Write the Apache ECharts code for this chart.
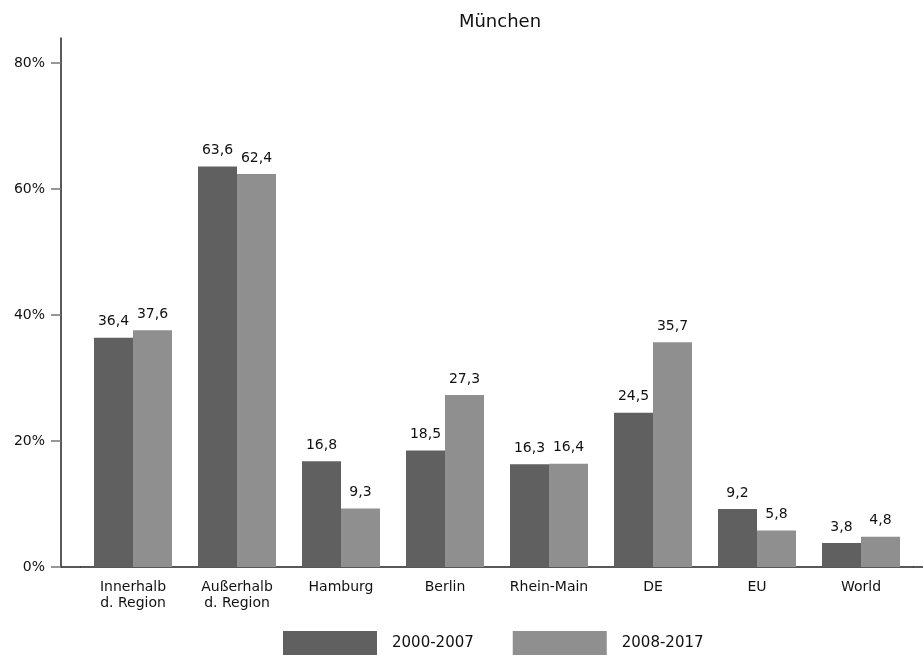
<!DOCTYPE html>
<html>
<head>
<meta charset="utf-8">
<script src="https://cdn.jsdelivr.net/npm/echarts@6/dist/echarts.min.js"></script>
<style>
  html, body { margin: 0; padding: 0; background: #fff; }
  #chart { width: 923px; height: 655px; }
</style>
</head>
<body>
<div id="chart"></div>
<script>
// Kategorien und Werte (in %)
const categories = ['Innerhalb\nd. Region', 'Außerhalb\nd. Region', 'Hamburg', 'Berlin', 'Rhein-Main', 'DE', 'EU', 'World']
const seriesNames = ['2000-2007', '2008-2017']
const values2000 = [36.4, 63.6, 16.8, 18.5, 16.3, 24.5, 9.2, 3.8]
const values2008 = [37.6, 62.4, 9.3, 27.3, 16.4, 35.7, 5.8, 4.8]
const yTicks = [0, 20, 40, 60, 80]

const colors = ['#606060', '#8f8f8f']
const font = 'DejaVu Sans'

const chart = echarts.init(document.getElementById('chart'))

const barLabel = {
  show: true,
  position: 'top',
  distance: 9,
  color: '#111',
  fontFamily: font,
  fontSize: 14,
  formatter: p => String(p.value).replace('.', ',')
}

const option = {
  animation: false,
  color: colors,
  title: {
    text: 'München',
    left: 495,
    top: 8,
    textAlign: 'center',
    textStyle: { fontFamily: font, fontSize: 18, fontWeight: 'normal', color: '#111' }
  },
  legend: {
    data: seriesNames,
    top: 631,
    left: 283,
    padding: 0,
    itemWidth: 94,
    itemHeight: 24,
    itemGap: 39,
    icon: 'rect',
    textStyle: { fontFamily: font, fontSize: 15, color: '#111', padding: [0, 0, 0, 10] }
  },
  grid: {
    left: 81,
    right: 10,
    top: 38,
    bottom: 88,
    containLabel: false
  },
  xAxis: {
    type: 'category',
    data: categories,
    axisLine: { lineStyle: { color: '#222', width: 1.5 } },
    axisTick: { show: false },
    axisLabel: { fontFamily: font, fontSize: 14, color: '#111', margin: 12, lineHeight: 16 }
  },
  yAxis: {
    type: 'value',
    min: 0,
    max: 84,
    interval: 20,
    offset: 20,
    splitLine: { show: false },
    axisLine: { show: true, lineStyle: { color: '#222', width: 1.5 } },
    axisTick: { show: true, length: 10, customValues: yTicks, lineStyle: { color: '#777', width: 1.5 } },
    axisLabel: {
      customValues: yTicks,
      fontFamily: font, fontSize: 14, color: '#111', margin: 16,
      formatter: v => v + '%'
    }
  },
  series: [
    {
      name: seriesNames[0],
      type: 'bar',
      data: values2000,
      barWidth: 39,
      barGap: '0%',
      label: barLabel
    },
    {
      name: seriesNames[1],
      type: 'bar',
      data: values2008,
      barWidth: 39,
      barGap: '0%',
      label: barLabel
    }
  ],
  // x-Achse links und rechts über das Kategorienband hinaus verlängern
  graphic: [
    { type: 'line', shape: { x1: 61, y1: 567, x2: 81, y2: 567 }, style: { stroke: '#222', lineWidth: 1.5 } },
    { type: 'line', shape: { x1: 913, y1: 567, x2: 923, y2: 567 }, style: { stroke: '#222', lineWidth: 1.5 } }
  ]
}

chart.setOption(option)
</script>
</body>
</html>
